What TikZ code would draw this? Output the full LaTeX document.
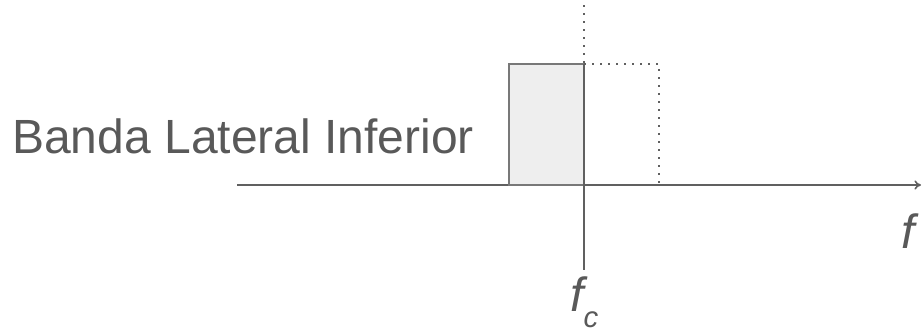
\documentclass[tikz,border=0pt]{standalone}
\usepackage{fontspec}
\setmainfont{Liberation Sans}
\usepackage{xcolor}
\usetikzlibrary{arrows.meta, positioning}

\definecolor{inkgray}{HTML}{595959}
\definecolor{linegray}{HTML}{606060}
\definecolor{bandfill}{HTML}{EEEEEE}

\begin{document}
\begin{tikzpicture}[
  x=0.75pt, y=-0.75pt,
  label/.style={inner sep=0pt, text=inkgray, font=\fontsize{36}{36}\selectfont},
  axis/.style={draw=linegray, line width=1.2pt},
  band/.style={draw=linegray!85, fill=bandfill, line width=1.4pt},
  ghost/.style={draw=linegray, line width=1.3pt, dash pattern=on 1.3pt off 4.7pt}
]
\useasboundingbox (0,0) rectangle (922,332);

% eje de frecuencias
\coordinate (ax0) at (237,185);
\coordinate (ax1) at (921,185);
\draw[axis, -{To[length=5pt, width=7pt]}] (ax0) -- (ax1);

% bandas
\draw[band] (509,64) rectangle (584,185);
\draw[ghost] (584,64) -- (659,64) -- (659,185) -- (584,185);

% portadora
\coordinate (fc0) at (584,5);
\coordinate (fc1) at (584,64);
\coordinate (fc2) at (584,270);
\draw[ghost] (fc0) -- (fc1);
\draw[axis] (fc1) -- (fc2);

% textos
\node[label, anchor=base west] (lsb) at (12,153) {Banda Lateral Inferior};
\node[label, anchor=base west] (f) at (901,248) {\itshape f};
\node[label, anchor=base west] (fc) at (570,311) {\itshape f\raisebox{-12pt}{\fontsize{22}{22}\selectfont c}};

\end{tikzpicture}
\end{document}
